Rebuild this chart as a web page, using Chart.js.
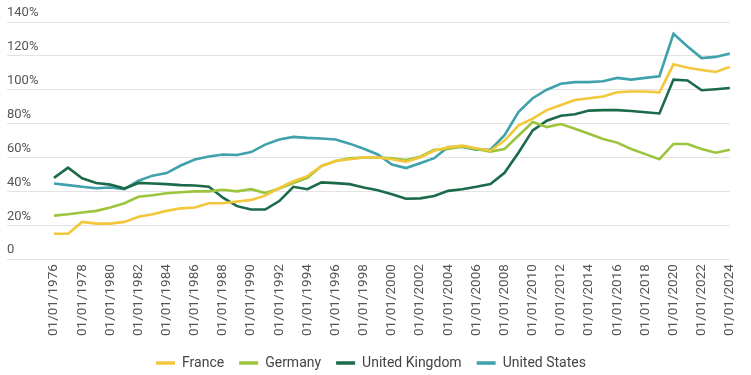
<!DOCTYPE html>
<html>
<head>
<meta charset="utf-8">
<script src="https://cdn.jsdelivr.net/npm/chart.js@4.4.1/dist/chart.umd.min.js"></script>
<style>
  html, body { margin: 0; padding: 0; background: #fff; }
  #wrap { width: 751px; height: 375px; }
</style>
</head>
<body>
<div id="wrap"><canvas id="chart"></canvas></div>
<script>
const years = [];
for (let y = 1976; y <= 2024; y++) years.push("01/01/" + y);

const france = [15, 15, 22, 21, 21, 22, 25, 26.5, 28.5, 30,
  30.5, 33, 33, 34, 35, 37.5, 42, 46, 49, 55,
  58, 59, 60, 60, 59, 57.5, 60, 64, 66, 67,
  65.5, 64, 70, 79, 83, 88, 91, 94, 95, 96,
  98.5, 99, 99, 98.5, 115, 113, 111.7, 110.5, 113.5];
const germany = [25.7, 26.5, 27.5, 28.5, 30.5, 33, 36.8, 37.7, 38.9, 39.5,
  40, 40, 41, 40, 41.3, 39, 41.7, 45, 48, 55,
  58, 59.5, 60, 60, 59.5, 58.5, 60.5, 64.5, 65, 66.5,
  65, 63.5, 65, 73, 81, 78, 79.8, 77, 74, 71,
  68.8, 65, 62, 59, 68, 68, 65, 62.8, 64.6];
const unitedKingdom = [48, 54, 47.7, 45, 44, 41.7, 45, 44.7, 44.3, 43.7,
  43.5, 42.7, 36.3, 31.3, 29.3, 29.3, 34.3, 42.7, 41.3, 45.3,
  44.9, 44.3, 42.3, 40.7, 38.3, 35.7, 35.9, 37.3, 40.3, 41.3,
  42.7, 44.3, 51, 63, 76, 81.7, 84.7, 85.5, 87.7, 88,
  88, 87.5, 86.7, 86, 106, 105.5, 99.7, 100.3, 101];
const unitedStates = [44.7, 43.7, 42.7, 41.9, 42.3, 41.3, 46.3, 49.3, 50.8, 55.3,
  58.8, 60.6, 61.8, 61.5, 63.2, 67.6, 70.6, 72.2, 71.6, 71.2,
  70.6, 68.2, 65.2, 61.8, 55.9, 53.8, 56.6, 59.6, 66.2, 66.2,
  64.6, 64.6, 73.2, 87, 95, 100, 103.5, 104.5, 104.5, 105,
  107, 106, 107, 108, 133, 125.6, 118.7, 119.4, 121.4];

const seriesNames = ["France", "Germany", "United Kingdom", "United States"];
const seriesColors = ["#f2c73a", "#9cc43c", "#1b6a4a", "#3fa1ab"];
const seriesData = [france, germany, unitedKingdom, unitedStates];

const makeDataset = (i) => ({
  label: seriesNames[i],
  data: seriesData[i],
  borderColor: seriesColors[i],
  backgroundColor: seriesColors[i],
  borderWidth: 2.6,
  pointRadius: 0,
  tension: 0,
  fill: false
});

Chart.defaults.font.family = "Roboto";
Chart.defaults.color = "#555";

new Chart(document.getElementById("chart"), {
  type: "line",
  data: {
    labels: years,
    datasets: seriesNames.map((_, i) => makeDataset(i))
  },
  options: {
    responsive: true,
    maintainAspectRatio: false,
    animation: false,
    layout: {
      padding: { top: 22, right: 16, bottom: -5, left: 7 }
    },
    plugins: {
      tooltip: { enabled: false },
      legend: {
        position: "bottom",
        labels: {
          usePointStyle: true,
          pointStyle: "line",
          pointStyleWidth: 19,
          padding: 15,
          color: "#444",
          font: { size: 14 },
          generateLabels: (chart) => {
            const items = Chart.defaults.plugins.legend.labels.generateLabels(chart);
            return items.map(item => ({ ...item, lineWidth: 3.5 }));
          }
        }
      }
    },
    scales: {
      x: {
        grid: { display: false, drawTicks: false },
        border: { display: false },
        ticks: {
          autoSkip: false,
          maxRotation: 90,
          minRotation: 90,
          padding: 5,
          font: { size: 13.5 },
          callback: function(value, index) {
            return index % 2 === 0 ? this.getLabelForValue(value) : "";
          }
        }
      },
      y: {
        min: 0,
        max: 140,
        afterFit: (axis) => { axis.width = 47; },
        border: { display: false },
        grid: { color: "#e3e3e3", lineWidth: 1, tickLength: 47 },
        ticks: {
          stepSize: 20,
          crossAlign: "far",
          labelOffset: -9,
          font: { size: 13 },
          callback: (value) => value === 0 ? "0" : value + "%"
        }
      }
    }
  }
});
</script>
</body>
</html>
